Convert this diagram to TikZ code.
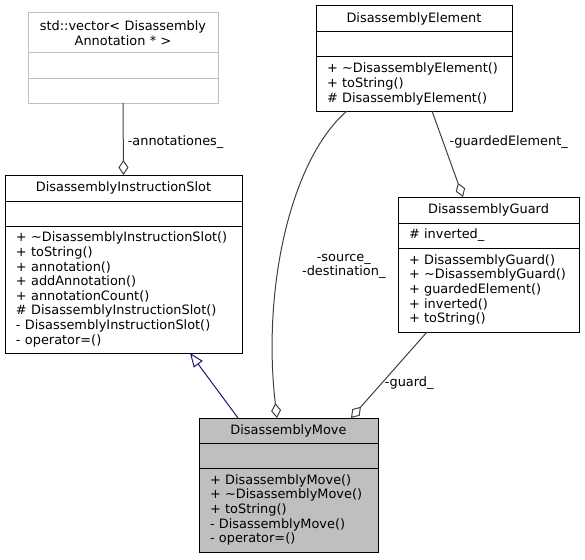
\documentclass[tikz,border=0pt]{standalone}
\usepackage{xcolor}
\usepackage{fontspec}
\setmainfont{DejaVu Sans}
\usepackage{tikz}
\usetikzlibrary{shapes,fit,calc,positioning,arrows.meta}
\definecolor{edgegray}{HTML}{404040}
\definecolor{basegray}{HTML}{BFBFBF}
\definecolor{inhblue}{HTML}{191970}

\begin{document}
\begin{tikzpicture}[x=1pt,y=-1pt,
  part/.style={draw=black,line width=1pt,rectangle,anchor=north west,outer sep=0pt,
    inner xsep=11pt,inner ysep=0pt,font=\fontsize{12.9}{14.6}\selectfont},
  head/.style={part,align=center},
  body/.style={part,align=left},
  aggr/.style={draw=edgegray,line width=1pt,-{Diamond[open,length=15pt,width=10pt]}},
  inherit/.style={draw=inhblue,line width=1pt,-{Triangle[open,length=14pt,width=11pt]}},
  lbl/.style={font=\fontsize{12.9}{14.6}\selectfont,inner sep=0pt}]
\useasboundingbox (0,0) rectangle (585,559);

\node[head,draw=basegray,text width=168pt,minimum height=40pt] (vecT) at (28,13) {std::vector< Disassembly\\Annotation * >};
\node[body,draw=basegray,text width=168pt,minimum height=26pt,below=0pt of vecT] (vecA) {};
\node[body,draw=basegray,text width=168pt,minimum height=24pt,below=0pt of vecA] (vecO) {};

\node[head,text width=174pt,minimum height=26pt] (elemT) at (316,6) {DisassemblyElement};
\node[body,text width=174pt,minimum height=25pt,below=0pt of elemT] (elemA) {};
\node[body,text width=174pt,minimum height=54pt,below=0pt of elemA] (elemO) {+~\textasciitilde DisassemblyElement()\\+~toString()\\\#~DisassemblyElement()};

\node[head,text width=215pt,minimum height=26pt] (slotT) at (5,175) {DisassemblyInstructionSlot};
\node[body,text width=215pt,minimum height=25pt,below=0pt of slotT] (slotA) {};
\node[body,text width=215pt,minimum height=127pt,below=0pt of slotA] (slotO) {+~\textasciitilde DisassemblyInstructionSlot()\\+~toString()\\+~annotation()\\+~addAnnotation()\\+~annotationCount()\\\#~DisassemblyInstructionSlot()\\-~DisassemblyInstructionSlot()\\-~operator=()};

\node[head,text width=159pt,minimum height=26pt] (guardT) at (398,197) {DisassemblyGuard};
\node[body,text width=159pt,minimum height=25pt,below=0pt of guardT] (guardA) {\#~inverted\_};
\node[body,text width=159pt,minimum height=84pt,below=0pt of guardA] (guardO) {+~DisassemblyGuard()\\+~\textasciitilde DisassemblyGuard()\\+~guardedElement()\\+~inverted()\\+~toString()};

\node[head,fill=basegray,text width=157pt,minimum height=25pt] (moveT) at (199,418) {DisassemblyMove};
\node[body,fill=basegray,text width=157pt,minimum height=25pt,below=0pt of moveT] (moveA) {};
\node[body,fill=basegray,text width=157pt,minimum height=84pt,below=0pt of moveA] (moveO) {+~DisassemblyMove()\\+~\textasciitilde DisassemblyMove()\\+~toString()\\-~DisassemblyMove()\\-~operator=()};

\draw[aggr] (vecO.south) -- (slotT.north) node[lbl,pos=0.54,right=4pt] {-annotationes\_};
\draw[aggr] ([xshift=18pt]elemO.south) -- ([xshift=-25.5pt]guardT.north)
		node[lbl,pos=0.36,right=6pt] {-guardedElement\_};
\draw[aggr] ([xshift=-67pt]elemO.south) .. controls (290,160) and (262,290) .. ([xshift=-11.5pt]moveT.north)
		node[lbl,pos=0.55,anchor=north west,align=center,xshift=20pt,yshift=-2pt] {-source\_\\-destination\_};
\draw[aggr] ([xshift=-61.5pt]guardO.south) -- ([xshift=62.5pt]moveT.north) node[lbl,pos=0.6,right=3pt] {-guard\_};
\draw[inherit] ([xshift=-50.5pt]moveT.north) -- ([xshift=66.5pt]slotO.south);

\end{tikzpicture}
\end{document}
